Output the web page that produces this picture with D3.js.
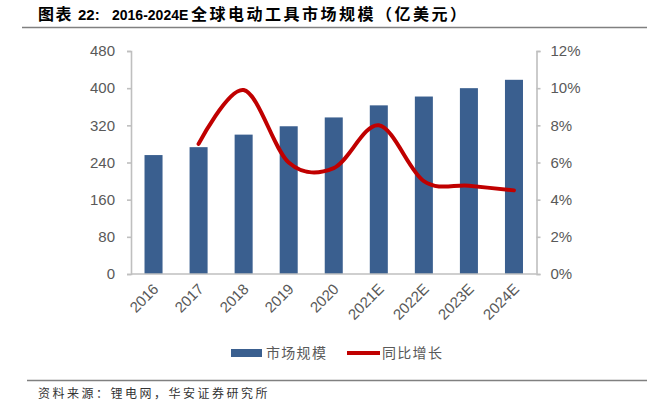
<!DOCTYPE html>
<html><head><meta charset="utf-8">
<script src="https://cdn.jsdelivr.net/npm/d3@7"></script>
<style>body{margin:0;background:#fff}svg{display:block}</style>
</head><body>
<script>
const categories = ["2016","2017","2018","2019","2020","2021E","2022E","2023E","2024E"];
const marketSize = [256, 273, 300, 318, 337, 363, 382, 400, 418];
const yoyGrowth = [null, 7.0, 9.9, 6.0, 5.7, 8.0, 5.0, 4.75, 4.5];
const leftTicks = [0, 80, 160, 240, 320, 400, 480];
const rightTicks = [0, 2, 4, 6, 8, 10, 12];
const titleParts = ["图表", "22:", "2016-2024E", "全球电动工具市场规模（亿美元）"];
const sourceText = "资料来源：锂电网，华安证券研究所";
const legendLabels = ["市场规模", "同比增长"];

const W = 647, H = 410;
const svg = d3.select("body").append("svg").attr("width", W).attr("height", H);
const m = {l:131, r:536.5, t:51, b:274};
const x = d3.scaleBand().domain(categories).range([m.l, m.r]).paddingInner(0.6).paddingOuter(0.3);
const yL = d3.scaleLinear().domain([0,480]).range([m.b, m.t]);
const yR = d3.scaleLinear().domain([0,12]).range([m.b, m.t]);
const gray = "#595959", axisCol = "#BFBFBF";
const font = "'Liberation Sans', Arial, sans-serif";
const cjk = "'Noto Sans CJK SC', sans-serif";

// title
const t = svg.append("text").attr("y", 20).attr("fill", "#000").attr("font-weight", "bold");
t.append("tspan").attr("x", 38).attr("font-family", cjk).attr("font-size", 16).attr("letter-spacing", 1.5).text(titleParts[0]);
t.append("tspan").attr("x", 78).attr("font-family", font).attr("font-size", 15).text(titleParts[1]);
t.append("tspan").attr("x", 112).attr("font-family", font).attr("font-size", 14).text(titleParts[2]);
t.append("tspan").attr("x", 191).attr("font-family", cjk).attr("font-size", 16).attr("letter-spacing", 2.5).text(titleParts[3]);
svg.append("line").attr("x1", 22).attr("x2", W).attr("y1", 27.5).attr("y2", 27.5).attr("stroke", "#808080").attr("stroke-width", 1.3);

// bars
svg.selectAll("rect.bar").data(categories).enter().append("rect")
  .attr("x", d => x(d)).attr("width", x.bandwidth())
  .attr("y", (d,i) => yL(marketSize[i])).attr("height", (d,i) => m.b - yL(marketSize[i]))
  .attr("fill", "#3A5F8F");

// axes
const axL = svg.append("g").attr("transform", `translate(${m.l},0)`)
  .call(d3.axisLeft(yL).tickValues(leftTicks).tickSize(4).tickPadding(12));
const axR = svg.append("g").attr("transform", `translate(${m.r},0)`)
  .call(d3.axisRight(yR).tickValues(rightTicks).tickSize(4).tickPadding(10).tickFormat(d => d + "%"));
const axB = svg.append("g").attr("transform", `translate(0,${m.b})`)
  .call(d3.axisBottom(x).tickSize(0).tickPadding(0));
[axL, axR, axB].forEach(g => {
  g.selectAll("path,line").attr("stroke", axisCol).attr("stroke-width", 1.6);
  g.selectAll("text").attr("fill", gray).attr("font-family", font).attr("font-size", 15);
});
axB.select("path").attr("d", `M${m.l},0H${m.r}`);
axB.selectAll("text").attr("text-anchor", "end").attr("dy", 0)
  .attr("transform", "translate(6,16) rotate(-45)");

// line
const pts = categories.map((c,i) => [x(c) + x.bandwidth()/2, yoyGrowth[i]]).filter(p => p[1] !== null);
svg.append("path").datum(pts)
  .attr("d", d3.line().x(p => p[0]).y(p => yR(p[1])).curve(d3.curveCardinal.tension(0)))
  .attr("fill", "none").attr("stroke", "#C00000").attr("stroke-width", 4).attr("stroke-linecap", "round");

// legend
const ly = 353;
svg.append("rect").attr("x", 231).attr("y", ly - 4).attr("width", 31).attr("height", 8).attr("fill", "#3A5F8F");
svg.append("text").attr("x", 266).attr("y", ly + 5).attr("font-family", cjk).attr("font-size", 14).attr("letter-spacing", 1.3).attr("fill", gray).text(legendLabels[0]);
svg.append("line").attr("x1", 347).attr("x2", 380).attr("y1", ly).attr("y2", ly).attr("stroke", "#C00000").attr("stroke-width", 4);
svg.append("text").attr("x", 382).attr("y", ly + 5).attr("font-family", cjk).attr("font-size", 14).attr("letter-spacing", 1.3).attr("fill", gray).text(legendLabels[1]);

// footer
svg.append("line").attr("x1", 27).attr("x2", W).attr("y1", 380.5).attr("y2", 380.5).attr("stroke", "#808080").attr("stroke-width", 1.3);
svg.append("text").attr("x", 38).attr("y", 398).attr("font-family", cjk).attr("font-size", 12).attr("letter-spacing", 2.5).attr("fill", "#333").text(sourceText);
</script>
</body></html>
